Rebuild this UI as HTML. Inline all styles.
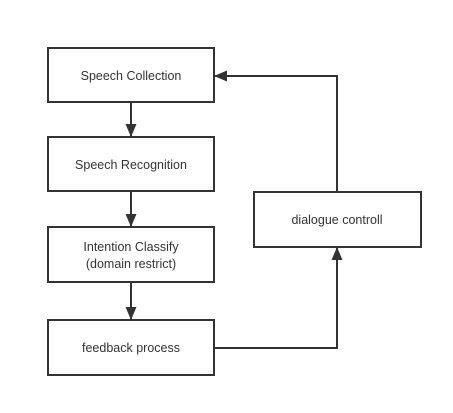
<!DOCTYPE html>
<html><head><style>
body{margin:0;background:#fff;}
svg text{font-family:"Liberation Sans","Noto Sans CJK SC",sans-serif;font-size:12.5px;fill:#333;text-anchor:middle;}
</style></head><body>
<svg width="453" height="408" viewBox="0 0 453 408" xmlns="http://www.w3.org/2000/svg">
<defs><marker id="a" markerWidth="13" markerHeight="11" refX="12" refY="5.5" orient="auto" markerUnits="userSpaceOnUse"><path d="M0,0 L13,5.5 L0,11 z" fill="#333"/></marker></defs>
<g fill="#fff" stroke="#333" stroke-width="2">
<rect x="48" y="48" width="166" height="54"/>
<rect x="48" y="137" width="166" height="54"/>
<rect x="48" y="227" width="166" height="55"/>
<rect x="48" y="320" width="166" height="55"/>
<rect x="254" y="192" width="167" height="55"/>
</g>
<g stroke="#333" stroke-width="2" fill="none">
<line x1="131" y1="102" x2="131" y2="136" marker-end="url(#a)"/>
<line x1="131" y1="191" x2="131" y2="226" marker-end="url(#a)"/>
<line x1="131" y1="282" x2="131" y2="319" marker-end="url(#a)"/>
<polyline points="214,348 337,348 337,248" marker-end="url(#a)"/>
<polyline points="337,192 337,76 215,76" marker-end="url(#a)"/>
</g>
<text x="131" y="80">Speech Collection</text>
<text x="131" y="169">Speech Recognition</text>
<text x="131" y="251">Intention Classify</text>
<text x="131" y="268">(domain restrict)</text>
<text x="131" y="352">feedback process</text>
<text x="337" y="224">dialogue controll</text>
</svg>
</body></html>
